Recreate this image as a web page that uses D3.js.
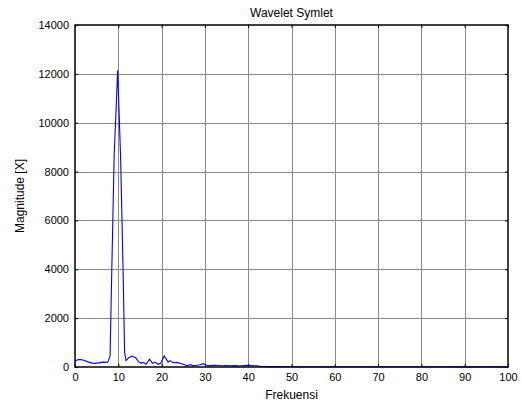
<!DOCTYPE html>
<html>
<head>
<meta charset="utf-8">
<script src="https://cdn.jsdelivr.net/npm/d3@7"></script>
<style>
  html, body { margin: 0; padding: 0; background: #fff; }
  svg { display: block; font-family: Arial, "Liberation Sans", sans-serif; }
</style>
</head>
<body>
<svg id="chart" width="522" height="405"></svg>
<script>
// Spectrum magnitude after Symlet wavelet processing
const frequency = [
  0, 0.5, 1.1, 2, 3, 4, 4.6, 5.5, 6.5, 7.2, 7.6, 8.1, 8.5, 9.05, 9.86,
  10.55, 11.15, 11.45, 11.8, 12.4, 13.2, 14.0, 14.6, 15.3, 15.8, 16.4,
  17.2, 17.9, 18.5, 19.2, 19.8, 20.6, 21.5, 21.9, 22.7, 23.5, 24.2,
  25.0, 25.8, 26.6, 27.3, 28.1, 28.9, 29.6, 30.4, 31.2, 32, 33, 34,
  35, 36, 37, 38, 39, 40, 41, 42, 43, 45, 50, 55, 60, 65, 70, 75,
  80, 85, 90, 95, 100
];
const magnitude = [
  250, 290, 310, 280, 210, 160, 150, 170, 200, 190, 210, 450, 4000, 8700, 12150,
  8470, 3560, 600, 260, 380, 450, 380, 230, 150, 190, 110,
  315, 150, 200, 110, 150, 450, 200, 260, 175, 190, 150,
  110, 55, 95, 55, 70, 95, 135, 70, 55, 70, 60, 50,
  60, 45, 55, 40, 60, 70, 55, 50, 20, 15, 12, 10, 12, 10, 8, 10,
  8, 9, 7, 8, 6
];
const xTicks = [0, 10, 20, 30, 40, 50, 60, 70, 80, 90, 100];
const yTicks = [0, 2000, 4000, 6000, 8000, 10000, 12000, 14000];

const titleText = "Wavelet Symlet";
const xLabel = "Frekuensi";
const yLabel = "Magnitude [X]";

const svg = d3.select("#chart");
const plotL = 75, plotR = 508, plotT = 25, plotB = 367;

const x = d3.scaleLinear().domain([0, 100]).range([plotL, plotR]);
const y = d3.scaleLinear().domain([0, 14000]).range([plotB, plotT]);

// grid
const grid = svg.append("g").attr("stroke", "#8a8a8a").attr("stroke-width", 1);
grid.selectAll(".vg").data(xTicks.slice(1, -1)).join("line")
  .attr("x1", d => Math.round(x(d)) + 0.5).attr("x2", d => Math.round(x(d)) + 0.5)
  .attr("y1", plotT).attr("y2", plotB);
grid.selectAll(".hg").data(yTicks.slice(1, -1)).join("line")
  .attr("y1", d => Math.round(y(d)) + 0.5).attr("y2", d => Math.round(y(d)) + 0.5)
  .attr("x1", plotL).attr("x2", plotR);

// data line
const line = d3.line().x(d => x(d[0])).y(d => y(d[1]));
svg.append("path")
  .datum(d3.zip(frequency, magnitude))
  .attr("fill", "none")
  .attr("stroke", "#0000ff")
  .attr("stroke-width", 1.1)
  .attr("d", line);

// axes (ticks inward)
const fontSize = 11;
const fmt = d3.format("d");
const xAxisB = d3.axisBottom(x).tickValues(xTicks).tickFormat(fmt).tickSizeInner(-3).tickSizeOuter(0).tickPadding(6);
const xAxisT = d3.axisTop(x).tickValues(xTicks).tickSizeInner(-3).tickSizeOuter(0).tickFormat("");
const yAxisL = d3.axisLeft(y).tickValues(yTicks).tickFormat(fmt).tickSizeInner(-3).tickSizeOuter(0).tickPadding(6);
const yAxisR = d3.axisRight(y).tickValues(yTicks).tickSizeInner(-3).tickSizeOuter(0).tickFormat("");

function styleAxis(g) {
  g.select(".domain").remove();
  g.selectAll(".tick line").attr("stroke", "#000");
  g.selectAll("text").attr("fill", "#000").style("font-size", fontSize + "px")
    .style("font-family", "Arial, 'Liberation Sans', sans-serif");
}
svg.append("g").attr("transform", `translate(0,${plotB})`).call(xAxisB).call(styleAxis);
svg.append("g").attr("transform", `translate(0,${plotT})`).call(xAxisT).call(styleAxis);
svg.append("g").attr("transform", `translate(${plotL},0)`).call(yAxisL).call(styleAxis);
svg.append("g").attr("transform", `translate(${plotR},0)`).call(yAxisR).call(styleAxis);

// frame
svg.append("rect")
  .attr("x", plotL).attr("y", plotT)
  .attr("width", plotR - plotL).attr("height", plotB - plotT)
  .attr("fill", "none").attr("stroke", "#000").attr("stroke-width", 1.5);

// labels
svg.append("text").attr("x", (plotL + plotR) / 2).attr("y", 17)
  .attr("text-anchor", "middle").style("font-size", "12px").text(titleText);
svg.append("text").attr("x", (plotL + plotR) / 2).attr("y", 399)
  .attr("text-anchor", "middle").style("font-size", "12px").text(xLabel);
svg.append("text")
  .attr("transform", `translate(24,${(plotT + plotB) / 2}) rotate(-90)`)
  .attr("text-anchor", "middle").style("font-size", "12px").text(yLabel);
</script>
</body>
</html>
